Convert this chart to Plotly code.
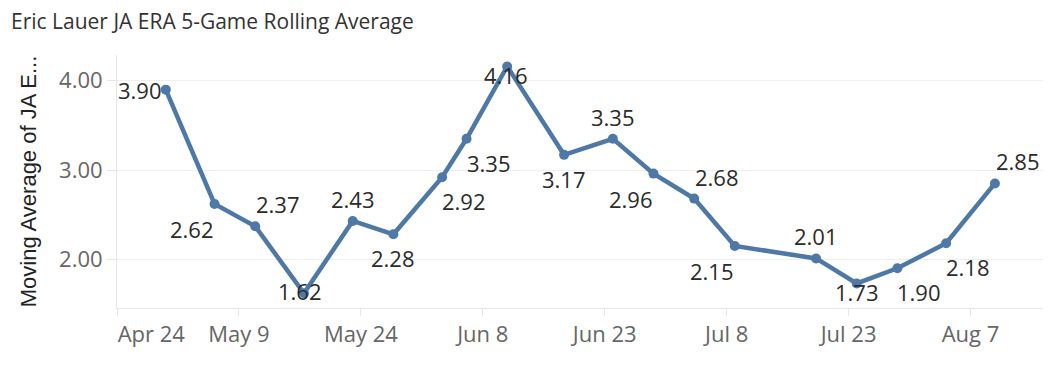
import plotly.graph_objects as go
import pandas as pd

# ---- data ----
dates = ["2024-04-30", "2024-05-06", "2024-05-11", "2024-05-17", "2024-05-23",
         "2024-05-28", "2024-06-03", "2024-06-06", "2024-06-11", "2024-06-18",
         "2024-06-24", "2024-06-29", "2024-07-04", "2024-07-09", "2024-07-19",
         "2024-07-24", "2024-07-29", "2024-08-04", "2024-08-10"]
era_avg = [3.90, 2.62, 2.37, 1.62, 2.43, 2.28, 2.92, 3.35, 4.16, 3.17,
           3.35, 2.96, 2.68, 2.15, 2.01, 1.73, 1.90, 2.18, 2.85]
tick_dates = ["2024-04-24", "2024-05-09", "2024-05-24", "2024-06-08",
              "2024-06-23", "2024-07-08", "2024-07-23", "2024-08-07"]
tick_labels = ["Apr 24", "May 9", "May 24", "Jun 8", "Jun 23", "Jul 8", "Jul 23", "Aug 7"]
y_ticks = [2, 3, 4]
y_tick_labels = ["2.00", "3.00", "4.00"]

# label placement (style only)
label_pos = ["l", "bl", "tr", "c1", "t", "b", "br", "br", "c2", "b",
             "t", "bl", "tr", "bl", "t", "c3", "br", "br", "tr"]
shift = {"l": (-26, 0), "bl": (-23, -25), "tr": (23, 22), "c1": (-4, 2),
         "c2": (-1, -9), "c3": (0, -9),
         "t": (0, 22), "b": (0, -24), "br": (22, -24)}

LINE = "#4e79a7"
FONT = "Open Sans"
# the page body adds an 8px offset; margins compensate
OFF = 8

fig = go.Figure()
fig.add_trace(go.Scatter(
    x=pd.to_datetime(dates), y=era_avg, mode="lines+markers",
    line=dict(color=LINE, width=4.5),
    marker=dict(color=LINE, size=10),
    hoverinfo="skip", showlegend=False,
))

for d, v, p in zip(dates, era_avg, label_pos):
    dx, dy = shift[p]
    fig.add_annotation(x=pd.to_datetime(d), y=v, text=f"{v:.2f}", showarrow=False,
                       xshift=dx, yshift=dy,
                       font=dict(family=FONT, size=22, color="#2b2b2b"))

# first tick label is nudged right so it starts inside the axis, as in the original
shown_ticks = ["\u00a0" * 12 + tick_labels[0]] + tick_labels[1:]

fig.update_layout(
    width=1054, height=368,
    margin=dict(l=117 - OFF, r=11 + OFF, t=55 - OFF, b=60 + OFF),
    paper_bgcolor="white", plot_bgcolor="white",
    title=dict(text="Eric Lauer JA ERA 5-Game Rolling Average",
               x=(11 - OFF) / 1054, xref="container", xanchor="left",
               y=1 - (22 - OFF) / 368, yref="container", yanchor="middle",
               font=dict(family=FONT, size=21, color="#333333")),
    font=dict(family=FONT),
)

fig.update_xaxes(
    range=[pd.Timestamp("2024-04-24"), pd.Timestamp("2024-08-15 22:00")],
    tickvals=pd.to_datetime(tick_dates), ticktext=shown_ticks,
    showgrid=False, zeroline=False,
    showline=True, linecolor="#e6e6e6", linewidth=1,
    ticks="outside", ticklen=7, tickcolor="#e6e6e6",
    tickfont=dict(family=FONT, size=22, color="#666666"),
)
fig.update_yaxes(
    range=[1.455, 4.288],
    tickvals=y_ticks, ticktext=y_tick_labels,
    showgrid=True, gridcolor="#efefef", gridwidth=1, zeroline=False,
    showline=True, linecolor="#e6e6e6", linewidth=1,
    ticks="outside", ticklen=9, tickcolor="#e6e6e6",
    tickfont=dict(family=FONT, size=22, color="#666666"),
    title=dict(text="Moving Average of JA E...", standoff=16,
               font=dict(family="Liberation Sans", size=22, color="#222222")),
)

fig.write_html("out.html")
